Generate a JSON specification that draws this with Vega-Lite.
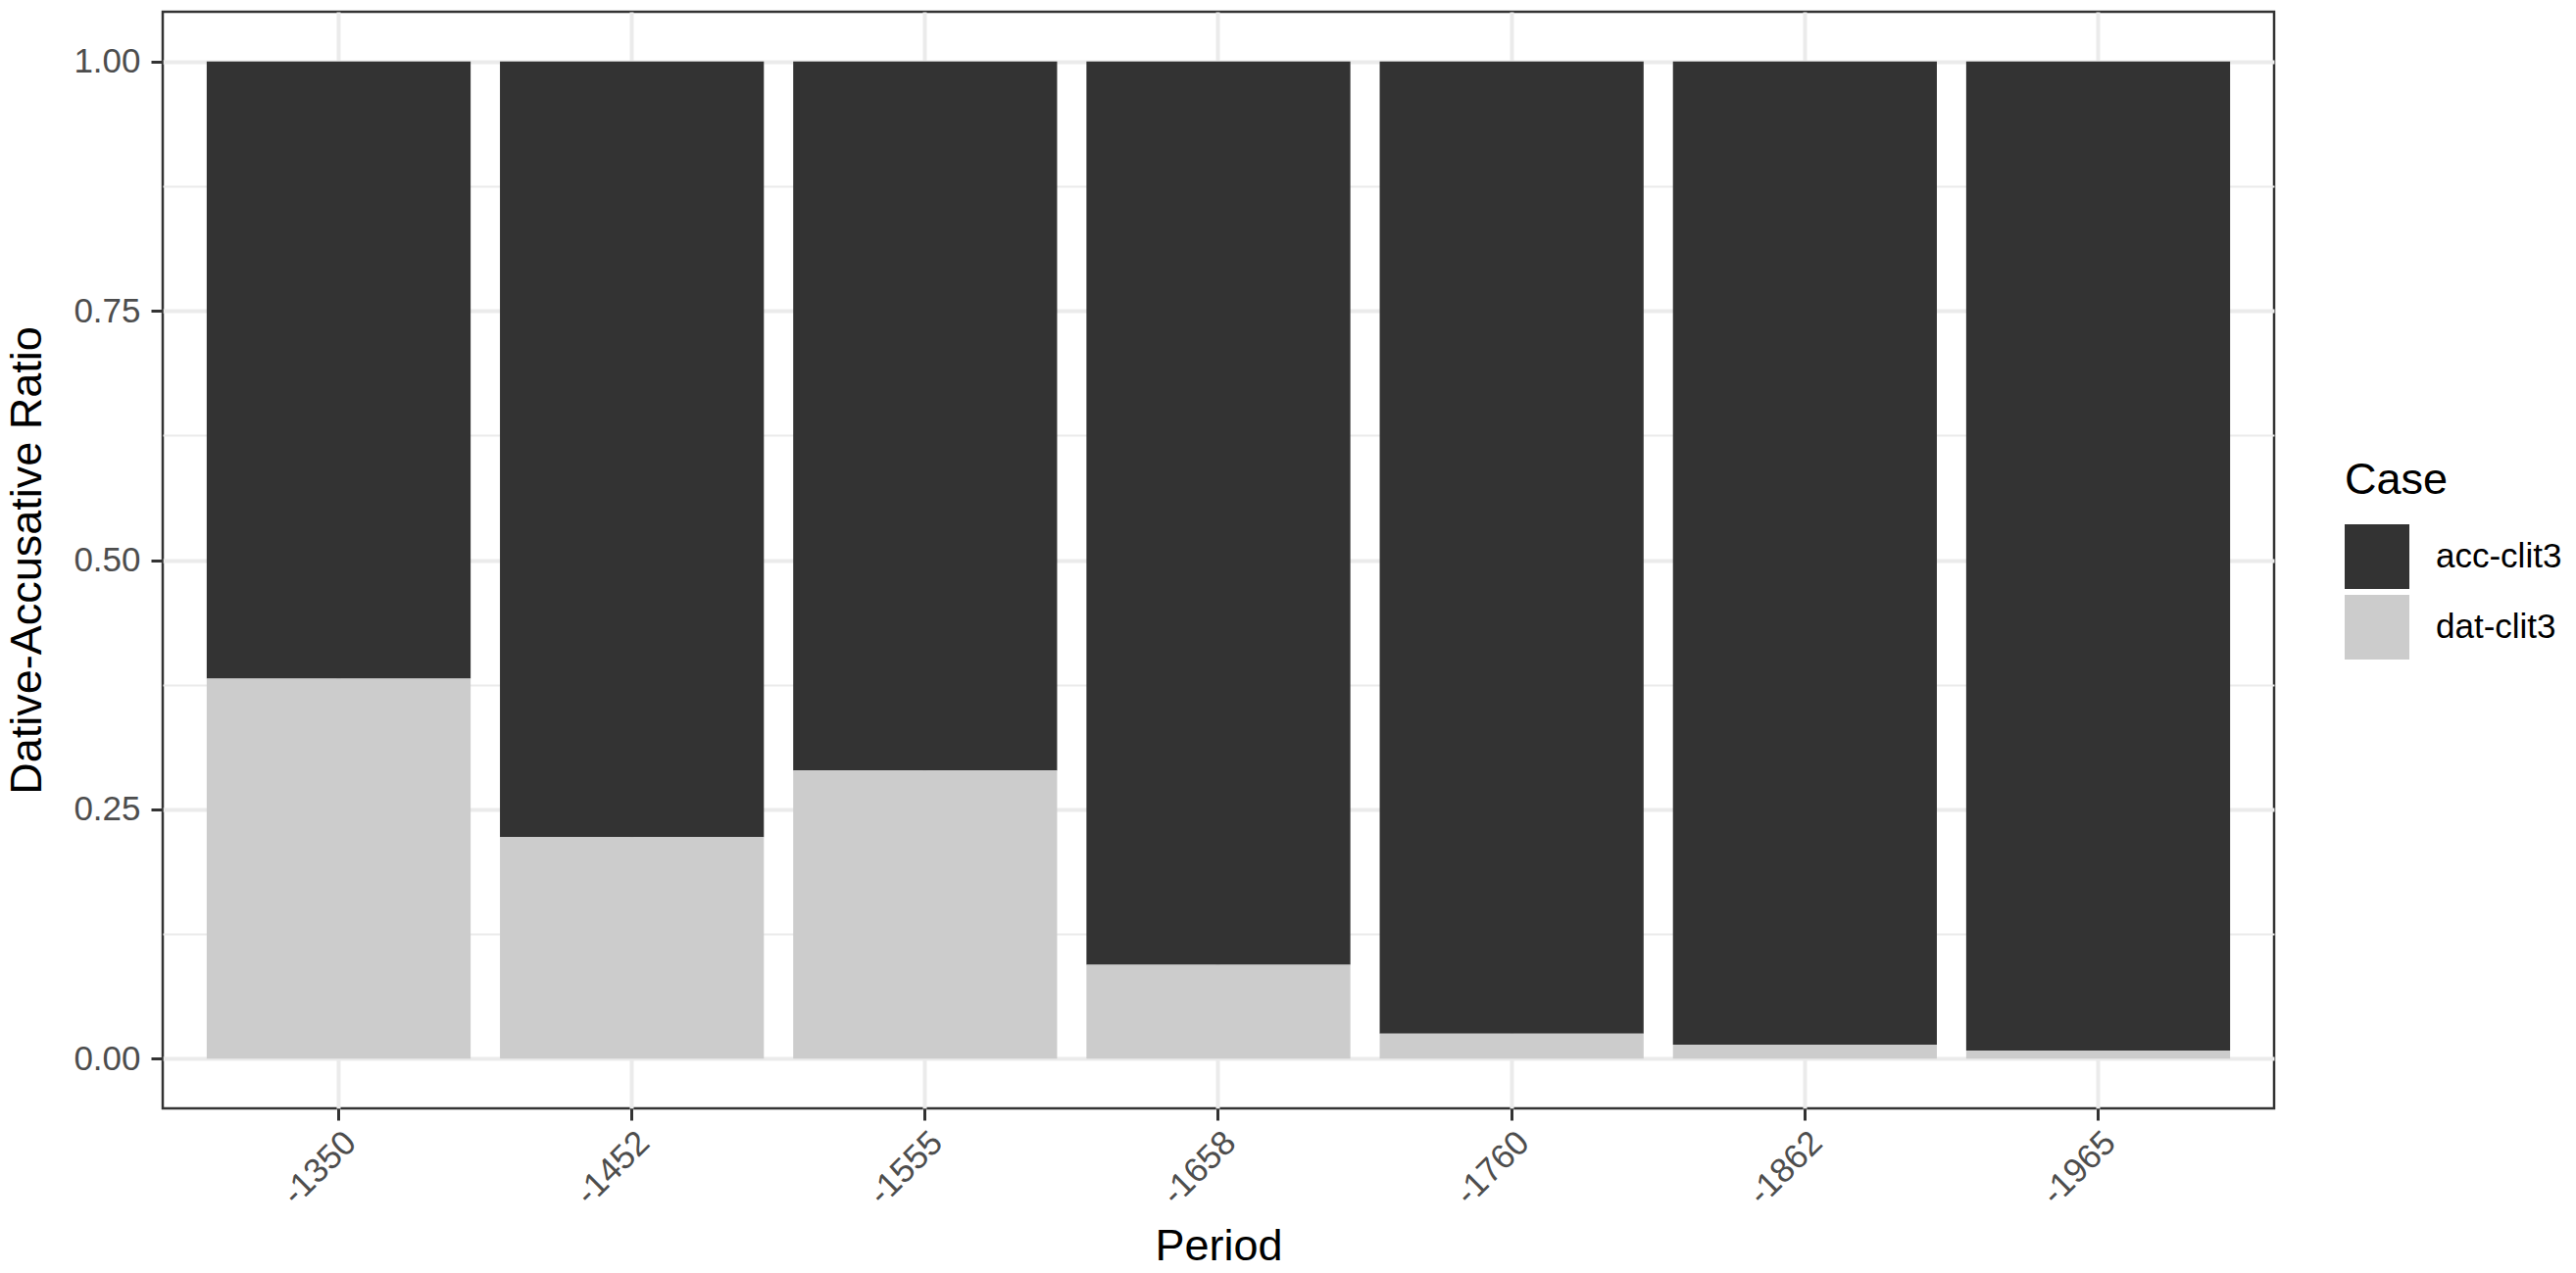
{
  "$schema": "https://vega.github.io/schema/vega-lite/v6.json",
  "autosize": {"type": "none"},
  "padding": {"left": 166, "top": 12, "right": 308, "bottom": 168},
  "width": 2154,
  "height": 1119,
  "background": "white",
  "config": {
    "font": "Liberation Sans",
    "view": {"stroke": "#333333", "strokeWidth": 2.5}
  },
  "data": {
    "values": [
      {"period": "-1350", "case": "acc-clit3", "ratio": 0.619},
      {"period": "-1350", "case": "dat-clit3", "ratio": 0.381},
      {"period": "-1452", "case": "acc-clit3", "ratio": 0.778},
      {"period": "-1452", "case": "dat-clit3", "ratio": 0.222},
      {"period": "-1555", "case": "acc-clit3", "ratio": 0.711},
      {"period": "-1555", "case": "dat-clit3", "ratio": 0.289},
      {"period": "-1658", "case": "acc-clit3", "ratio": 0.906},
      {"period": "-1658", "case": "dat-clit3", "ratio": 0.094},
      {"period": "-1760", "case": "acc-clit3", "ratio": 0.975},
      {"period": "-1760", "case": "dat-clit3", "ratio": 0.025},
      {"period": "-1862", "case": "acc-clit3", "ratio": 0.986},
      {"period": "-1862", "case": "dat-clit3", "ratio": 0.014},
      {"period": "-1965", "case": "acc-clit3", "ratio": 0.992},
      {"period": "-1965", "case": "dat-clit3", "ratio": 0.008}
    ]
  },
  "mark": {"type": "bar"},
  "encoding": {
    "x": {
      "field": "period",
      "type": "nominal",
      "sort": null,
      "scale": {"paddingInner": 0.1, "paddingOuter": 0.15},
      "axis": {
        "title": "Period",
        "titleFontSize": 45,
        "titleFontWeight": "normal",
        "titleColor": "black",
        "titlePadding": 13,
        "labelAngle": -45,
        "labelAlign": "right",
        "labelBaseline": "top",
        "labelFontSize": 35,
        "labelColor": "#4D4D4D",
        "labelPadding": 5,
        "bandPosition": 0.5,
        "tickSize": 12,
        "tickWidth": 3,
        "tickColor": "#333333",
        "domain": false,
        "grid": true,
        "gridColor": "#EBEBEB",
        "gridWidth": 4
      }
    },
    "y": {
      "field": "ratio",
      "type": "quantitative",
      "stack": "zero",
      "scale": {"domain": [-0.05, 1.05], "nice": false, "zero": false},
      "axis": {
        "title": "Dative-Accusative Ratio",
        "titleFontSize": 45,
        "titleFontWeight": "normal",
        "titleColor": "black",
        "titlePadding": 24,
        "values": [0, 0.125, 0.25, 0.375, 0.5, 0.625, 0.75, 0.875, 1],
        "labelExpr": "(datum.value * 4) % 1 == 0 ? format(datum.value, '.2f') : ''",
        "labelFontSize": 35,
        "labelColor": "#4D4D4D",
        "labelPadding": 11,
        "tickSize": 12,
        "tickWidth": 3,
        "tickColor": "#333333",
        "tickOpacity": {"condition": {"test": "(datum.value * 4) % 1 != 0", "value": 0}, "value": 1},
        "domain": false,
        "grid": true,
        "gridColor": "#EBEBEB",
        "gridWidth": {"condition": {"test": "(datum.value * 4) % 1 != 0", "value": 2}, "value": 4}
      }
    },
    "color": {
      "field": "case",
      "type": "nominal",
      "scale": {"domain": ["acc-clit3", "dat-clit3"], "range": ["#333333", "#CCCCCC"]},
      "legend": {
        "title": "Case",
        "orient": "none",
        "legendX": 2226,
        "legendY": 456,
        "titleFontSize": 45,
        "titleFontWeight": "normal",
        "titleColor": "black",
        "titlePadding": 22,
        "labelFontSize": 35,
        "labelColor": "black",
        "labelOffset": 27,
        "symbolType": "square",
        "symbolSize": 4356,
        "symbolStrokeWidth": 0,
        "symbolOpacity": 1,
        "rowPadding": 6
      }
    },
    "order": {"field": "case", "sort": "descending"}
  }
}
